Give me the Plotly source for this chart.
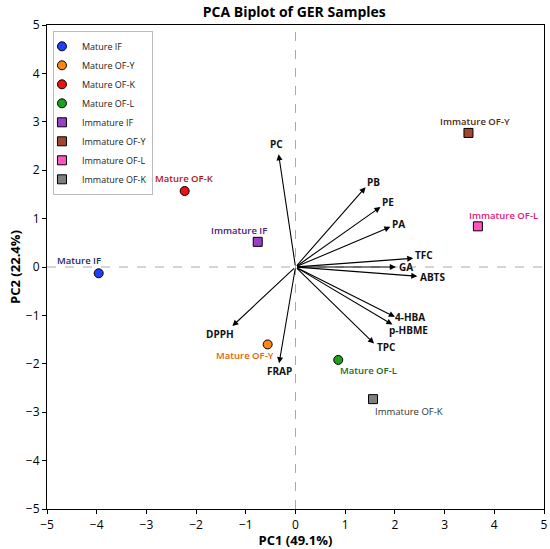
import plotly.graph_objects as go

# sample scores (PC1, PC2)
samples = ["Mature IF", "Mature OF-Y", "Mature OF-K", "Mature OF-L",
           "Immature IF", "Immature OF-Y", "Immature OF-L", "Immature OF-K"]
pc1_scores = [-3.96, -0.56, -2.23, 0.86, -0.76, 3.48, 3.67, 1.56]
pc2_scores = [-0.13, -1.60, 1.57, -1.92, 0.52, 2.77, 0.84, -2.73]

# variable loadings (arrow tips)
variables = ["PC", "PB", "PE", "PA", "TFC", "GA", "ABTS",
             "DPPH", "FRAP", "4-HBA", "p-HBME", "TPC"]
load_pc1 = [-0.34, 1.41, 1.71, 1.91, 2.37, 2.02, 2.45, -1.27, -0.33, 2.00, 1.95, 1.58]
load_pc2 = [2.33, 1.65, 1.24, 0.83, 0.18, 0.00, -0.19, -1.22, -1.99, -1.03, -1.19, -1.58]

# styling (kept apart from data)
marker_colors = ["#1f3fff", "#ff8514", "#f01010", "#1aa31a",
                 "#9b3fc9", "#a0472e", "#ff55c0", "#7f7f7f"]
label_colors = ["#1a2a6c", "#e8600a", "#b01515", "#1b6b1b",
                "#4a1a7a", "#4e2a20", "#e0187a", "#333333"]
label_weights = [600, 600, 600, 600, 600, 600, 600, 400]
marker_symbols = ["circle"] * 4 + ["square"] * 4
sample_label_shift = [(-20, 13), (-23, -11), (0, 13), (30, -11),
                      (-19, 11), (7, 11), (26, 11), (36, -12)]
var_label_shift = [(-2, 10), (8, 5), (8, 5), (8, 3), (11, 3), (10, 0),
                   (15, -1), (-12, -8), (0, -8), (15, 0), (16, -5), (12, -4)]

FONT = "Open Sans, Noto Sans, sans-serif"

fig = go.Figure()

for i, name in enumerate(samples):
    fig.add_trace(go.Scatter(
        x=[pc1_scores[i]], y=[pc2_scores[i]],
        mode="markers", name=name,
        marker=dict(symbol=marker_symbols[i], size=9, color=marker_colors[i],
                    line=dict(color="black", width=1)),
    ))
    fig.add_annotation(
        x=pc1_scores[i], y=pc2_scores[i], text=name, showarrow=False,
        xshift=sample_label_shift[i][0], yshift=sample_label_shift[i][1],
        font=dict(family=FONT, size=9.5, color=label_colors[i],
                  weight=label_weights[i]),
    )

for i, var in enumerate(variables):
    fig.add_annotation(
        x=load_pc1[i], y=load_pc2[i], ax=0, ay=0,
        xref="x", yref="y", axref="x", ayref="y",
        text="", showarrow=True, arrowhead=2, arrowsize=1.1,
        arrowwidth=1.1, arrowcolor="black",
    )
    fig.add_annotation(
        x=load_pc1[i], y=load_pc2[i], text="<b>%s</b>" % var, showarrow=False,
        xshift=var_label_shift[i][0], yshift=var_label_shift[i][1],
        font=dict(family=FONT, size=10, color="#111"),
    )

fig.add_hline(y=0, line=dict(color="#aaa", width=1, dash="dash"), layer="below")
fig.add_vline(x=0, line=dict(color="#aaa", width=1, dash="dash"), layer="below")

axis_style = dict(range=[-5, 5], dtick=1, showgrid=False, zeroline=False,
                  showline=True, linecolor="black", linewidth=1.2, mirror=True,
                  ticks="outside", ticklen=4, tickcolor="black", automargin=False,
                  tickfont=dict(family=FONT, size=12, color="black"))

fig.update_layout(
    width=550, height=549,
    template="plotly_white",
    plot_bgcolor="white", paper_bgcolor="white",
    margin=dict(l=47, r=6, t=25, b=40),
    title=dict(text="<b>PCA Biplot of GER Samples</b>", x=0.535, xanchor="center",
               y=0.978, yanchor="middle", font=dict(family=FONT, size=14, color="black")),
    xaxis=dict(axis_style, title=dict(text="<b>PC1 (49.1%)</b>", standoff=0,
               font=dict(family=FONT, size=13, color="black"))),
    yaxis=dict(axis_style, title=dict(text="<b>PC2 (22.4%)</b>", standoff=2,
               font=dict(family=FONT, size=13, color="black"))),
    legend=dict(x=0.012, y=0.988, xanchor="left", yanchor="top",
                bgcolor="white", bordercolor="#bbb", borderwidth=1,
                font=dict(family=FONT, size=9, color="#222"),
                itemsizing="trace", tracegroupgap=0, indentation=-12),
    showlegend=True,
)

# drop the default page margin so the figure sits at the window's corner
fig.write_html("out.html", config={"displayModeBar": False},
               post_script="document.body.style.margin='0';")
